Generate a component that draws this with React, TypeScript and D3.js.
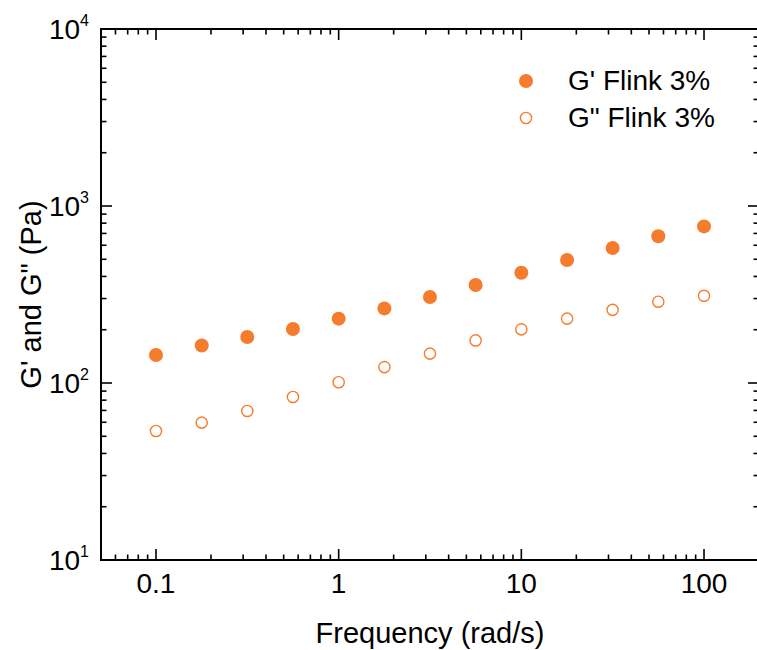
import React, { useEffect, useRef } from 'react'
import * as d3 from 'd3'

const frequency = [0.1, 0.178, 0.316, 0.562, 1, 1.78, 3.16, 5.62, 10, 17.8, 31.6, 56.2, 100]
const storageModulus = [144, 163, 182, 202, 231, 264, 306, 358, 420, 495, 579, 675, 767]
const lossModulus = [53.6, 59.7, 69.5, 83.4, 101, 123, 146.5, 174, 201, 231, 259, 288, 311]
const xTickLabels = ['0.1', '1', '10', '100']
const yTickExponents = ['1', '2', '3', '4']
const legendLabels = ["G' Flink 3%", 'G" Flink 3%']

const WIDTH = 757
const HEIGHT = 650
const ORANGE = '#f47c2c'
const FONT = 'Arial, "Liberation Sans", sans-serif'

export default function App() {
  const svgRef = useRef<SVGSVGElement>(null)

  useEffect(() => {
    const svg = d3.select(svgRef.current)
    svg.selectAll('*').remove()

    const left = 101, right = 759, top = 29, bottom = 560
    const x = d3.scaleLog().domain([0.05, 200]).range([left, right])
    const y = d3.scaleLog().domain([10, 10000]).range([bottom, top])

    // minor/major ticks for both log axes
    const xMinor: number[] = []
    for (let e = -2; e <= 2; e++) {
      for (let m = 1; m < 10; m++) {
        const v = m * Math.pow(10, e)
        if (v > 0.05 && v < 200) xMinor.push(v)
      }
    }
    const yMinor: number[] = []
    for (let e = 1; e <= 3; e++) {
      for (let m = 1; m < 10; m++) yMinor.push(m * Math.pow(10, e))
    }
    yMinor.push(10000)
    const isMajor = (v: number) => Math.abs(Math.log10(v) - Math.round(Math.log10(v))) < 1e-9

    const ticks = svg.append('g').attr('stroke', '#000').attr('stroke-width', 1.6)
    ticks.selectAll('line.xb').data(xMinor).enter().append('line')
      .attr('x1', d => x(d)).attr('x2', d => x(d))
      .attr('y1', bottom).attr('y2', d => bottom - (isMajor(d) ? 11 : 5.5))
    ticks.selectAll('line.xt').data(xMinor).enter().append('line')
      .attr('x1', d => x(d)).attr('x2', d => x(d))
      .attr('y1', top).attr('y2', d => top + (isMajor(d) ? 11 : 5.5))
    ticks.selectAll('line.yl').data(yMinor).enter().append('line')
      .attr('y1', d => y(d)).attr('y2', d => y(d))
      .attr('x1', left).attr('x2', d => left + (isMajor(d) ? 11 : 5.5))
    ticks.selectAll('line.yr').data(yMinor).enter().append('line')
      .attr('y1', d => y(d)).attr('y2', d => y(d))
      .attr('x1', right).attr('x2', d => right - (isMajor(d) ? 11 : 5.5))

    svg.append('rect')
      .attr('x', left).attr('y', top)
      .attr('width', right - left).attr('height', bottom - top)
      .attr('fill', 'none').attr('stroke', '#000').attr('stroke-width', 2)

    // tick labels
    svg.append('g').selectAll('text').data(xTickLabels).enter().append('text')
      .attr('x', d => x(+d)).attr('y', bottom + 33)
      .attr('text-anchor', 'middle')
      .attr('font-family', FONT).attr('font-size', 28)
      .text(d => d)

    const yl = svg.append('g').selectAll('text').data(yTickExponents).enter().append('text')
      .attr('x', 89).attr('y', d => y(Math.pow(10, +d)) + 10)
      .attr('text-anchor', 'end')
      .attr('font-family', FONT).attr('font-size', 28)
    yl.append('tspan').text('10')
    yl.append('tspan').attr('font-size', 16).attr('dy', -13).text(d => d)

    // axis titles
    svg.append('text')
      .attr('x', (left + right) / 2).attr('y', 643)
      .attr('text-anchor', 'middle')
      .attr('font-family', FONT).attr('font-size', 29)
      .text('Frequency (rad/s)')
    svg.append('text')
      .attr('transform', `translate(41, ${(top + bottom) / 2}) rotate(-90)`)
      .attr('text-anchor', 'middle')
      .attr('font-family', FONT).attr('font-size', 29)
      .text('G\' and G" (Pa)')

    // data
    svg.append('g').selectAll('circle').data(frequency).enter().append('circle')
      .attr('cx', d => x(d)).attr('cy', (d, i) => y(storageModulus[i]))
      .attr('r', 7).attr('fill', ORANGE)
    svg.append('g').selectAll('circle').data(frequency).enter().append('circle')
      .attr('cx', d => x(d)).attr('cy', (d, i) => y(lossModulus[i]))
      .attr('r', 5.6).attr('fill', '#fff').attr('stroke', ORANGE).attr('stroke-width', 1.4)

    // legend
    const legend = svg.append('g')
    legend.append('circle').attr('cx', 526).attr('cy', 81).attr('r', 7).attr('fill', ORANGE)
    legend.append('circle').attr('cx', 526).attr('cy', 118).attr('r', 5.6)
      .attr('fill', '#fff').attr('stroke', ORANGE).attr('stroke-width', 1.4)
    legend.selectAll('text').data(legendLabels).enter().append('text')
      .attr('x', 568).attr('y', (d, i) => 90 + i * 37)
      .attr('font-family', FONT).attr('font-size', 28)
      .text(d => d)
  }, [])

  return (
    <svg ref={svgRef} width={WIDTH} height={HEIGHT}
      style={{ position: 'absolute', left: 0, top: 0, background: '#fff' }} />
  )
}
